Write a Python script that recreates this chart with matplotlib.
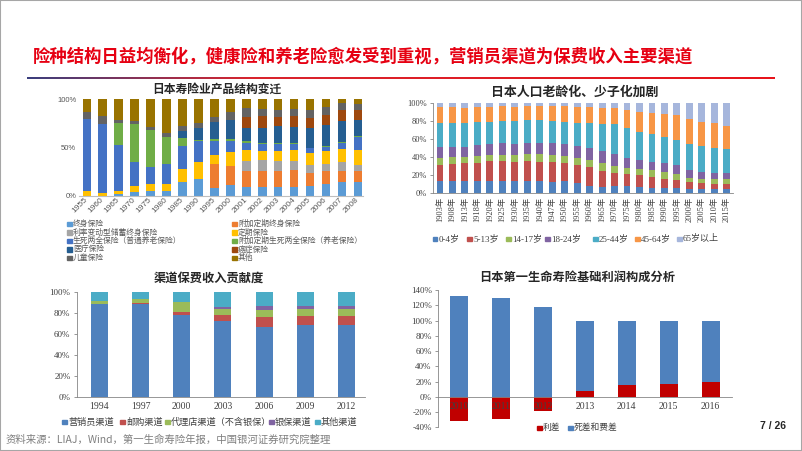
import numpy as np
import matplotlib.pyplot as plt
from matplotlib.patches import Rectangle
from matplotlib.colors import LinearSegmentedColormap

plt.rcParams['font.family'] = ['Noto Sans CJK SC', 'DejaVu Sans']
plt.rcParams['axes.unicode_minus'] = False

SERIF = ['Liberation Serif', 'Noto Sans CJK SC']
SANS = ['Liberation Sans', 'Noto Sans CJK SC']

# 日本寿险业产品结构变迁 (%)
prod_years = ['1955', '1960', '1965', '1970', '1975', '1980', '1985', '1990', '1995',
              '2000', '2001', '2002', '2003', '2004', '2005', '2006', '2007', '2008']
whole_life = [0, 0, 2, 4, 5, 5, 14, 18, 8, 11, 9, 9, 9, 9, 10, 12, 14, 14]
rider_whole = [0, 0, 0, 0, 0, 0, 0, 0, 25, 20, 17, 17, 17, 18, 14, 14, 12, 12]
variable_whole = [0, 0, 0, 0, 0, 0, 0, 0, 0, 0, 10, 11, 10, 9, 8, 7, 9, 6]
term_life = [5, 3, 3, 6, 7, 7, 14, 17, 9, 14, 11, 9, 10, 11, 12, 13, 13, 15]
endowment = [74, 71, 48, 25, 18, 21, 24, 22, 15, 12, 8, 8, 8, 7, 5, 5, 7, 14]
rider_endow = [0, 0, 22, 39, 38, 28, 8, 1, 2, 2, 2, 1, 1, 1, 0.5, 0.5, 0.5, 0.5]
medical = [0, 0, 0, 0, 0, 0, 7, 12, 17, 19, 13, 15, 17, 16, 20.5, 21.5, 21.5, 16.5]
cancer = [0, 0, 0, 0, 0, 0, 0, 0, 0, 0, 11, 12, 9, 11, 10, 10, 12, 11]
child = [8, 8, 3, 3, 3, 4, 5, 5, 5, 9, 10, 8, 8, 8, 9, 9, 7, 6]
other = [13, 18, 22, 23, 29, 35, 28, 25, 19, 13, 9, 10, 11, 10, 11, 8, 4, 5]
prod_names = ['终身保险', '附加定期终身保险', '利率变动型储蓄终身保险', '定期保险',
              '生死两全保险（普通养老保险）', '附加定期生死两全保险（养老保险）',
              '医疗保险', '癌症保险', '儿童保险', '其他']
prod_colors = ['#5B9BD5', '#ED7D31', '#A5A5A5', '#FFC000', '#4472C4', '#70AD47',
               '#255E91', '#9E480E', '#636363', '#997300']

# 日本人口老龄化、少子化加剧 (%)
pop_years = ['1903年', '1908年', '1913年', '1918年', '1920年', '1925年', '1930年', '1935年',
             '1940年', '1947年', '1950年', '1955年', '1960年', '1965年', '1970年', '1975年',
             '1980年', '1985年', '1990年', '1995年', '2000年', '2005年', '2010年', '2015年']
age_0_4 = [13, 13, 13, 13, 13, 13, 13, 13, 13, 12, 13, 11, 8, 7, 8, 8, 7, 6, 5, 5, 4, 4, 4, 4]
age_5_13 = [18, 19, 20, 20, 22, 22, 21, 22, 21, 22, 20, 20, 21, 17, 14, 13, 13, 12, 10, 9, 8, 7, 6, 6]
age_14_17 = [8, 8, 7, 8, 7, 7, 8, 8, 9, 8, 8, 8, 8, 9, 8, 7, 7, 7, 8, 7, 5, 4, 5, 5]
age_18_24 = [12, 11, 11, 12, 12, 13, 12, 12, 12, 13, 13, 13, 13, 13, 13, 11, 9, 9, 10, 10, 9, 8, 7, 7]
age_25_44 = [27, 27, 27, 26, 25, 25, 26, 26, 26, 25, 25, 26, 28, 30, 33, 33, 32, 31, 29, 28, 28, 29, 28, 27]
age_45_64 = [17, 17, 16, 16, 16, 16, 15, 15, 15, 16, 17, 17, 17, 18, 18, 20, 22, 24, 26, 27, 28, 27, 27, 25]
age_65_up = [5, 5, 6, 5, 5, 4, 5, 4, 4, 4, 4, 5, 5, 6, 6, 8, 10, 11, 12, 14, 18, 21, 23, 26]
age_names = ['0-4岁', '5-13岁', '14-17岁', '18-24岁', '25-44岁', '45-64岁', '65岁以上']
age_colors = ['#4F81BD', '#C0504D', '#9BBB59', '#8064A2', '#4BACC6', '#F79646', '#A6B6DC']

# 渠道保费收入贡献度 (%)
chan_years = ['1994', '1997', '2000', '2003', '2006', '2009', '2012']
agent = [88, 88.5, 78, 72, 66.5, 68, 68]
mail = [0.5, 0.5, 3, 6, 9.5, 9, 9]
agency = [3, 4.5, 9.5, 6, 7, 6.5, 7]
bank = [0, 0, 0, 1.7, 3, 3, 2.7]
other_chan = [8.5, 6.5, 9.5, 14.3, 14, 13.5, 13.3]
chan_names = ['营销员渠道', '邮购渠道', '代理店渠道（不含银保）', '银保渠道', '其他渠道']
chan_colors = ['#4F81BD', '#C0504D', '#9BBB59', '#8064A2', '#4BACC6']

# 日本第一生命寿险基础利润构成分析 (%)
profit_years = ['2010', '2011', '2012', '2013', '2014', '2015', '2016']
spread = [-32, -29, -18, 8, 15, 17, 20]
mortality_expense = [132, 130, 118, 92, 85, 83, 80]

W, H = 802, 451
fig = plt.figure(figsize=(W / 100, H / 100), dpi=100)


def box(x0, y0, x1, y1):
    return [x0 / W, 1 - y1 / H, (x1 - x0) / W, (y1 - y0) / H]


def key(x, y, color, label, fs, fam, tc='#404040'):
    s = 4.5
    fig.add_artist(Rectangle((x / W, 1 - (y + s / 2) / H), s / W, s / H,
                             color=color, transform=fig.transFigure))
    fig.text((x + s + 1.5) / W, 1 - y / H, label, fontsize=fs, family=fam,
             color=tc, va='center', ha='left')


def pct(v):
    return '%d%%' % round(v * 100)


def office_axes(ax):
    ax.tick_params(axis='x', length=0, pad=4)
    ax.tick_params(axis='y', length=2.5, width=0.6, color='#868686', pad=2)
    for s in ['top', 'right']:
        ax.spines[s].set_visible(False)
    for s in ['left', 'bottom']:
        ax.spines[s].set_color('#868686')
        ax.spines[s].set_linewidth(0.6)


# 页眉
fig.text(33 / W, 1 - 57 / H, '险种结构日益均衡化，健康险和养老险愈发受到重视，营销员渠道为保费收入主要渠道',
         fontsize=12.5, fontweight='bold', color='#E60012', va='center', ha='left')
lax = fig.add_axes(box(27, 76.5, 775, 79.5))
cmap = LinearSegmentedColormap.from_list('bar', [(0, '#3B3F7E'), (0.3, '#D9252E'), (1, '#E8141B')])
lax.imshow(np.linspace(0, 1, 256)[None, :], aspect='auto', cmap=cmap, extent=(0, 1, 0, 1))
lax.axis('off')

# 图1
ax1 = fig.add_axes(box(79, 99, 363, 196))
series = [whole_life, rider_whole, variable_whole, term_life, endowment,
          rider_endow, medical, cancer, child, other]
x = np.arange(len(prod_years))
bottom = np.zeros(len(x))
for vals, c in zip(series, prod_colors):
    v = np.array(vals) / 100
    ax1.bar(x, v, 0.52, bottom=bottom, color=c)
    bottom += v
ax1.set_xlim(-0.48, 17.3)
ax1.set_ylim(0, 1)
ax1.set_yticks([0, 0.5, 1])
ax1.set_yticklabels(['0%', '50%', '100%'], fontsize=5.5, color='#595959', family=SANS)
ax1.set_xticks(x)
ax1.set_xticklabels(prod_years, rotation=45, ha='right', va='center', rotation_mode='anchor',
                    fontsize=6, color='#595959', family=SANS)
ax1.tick_params(length=0, pad=2)
for s in ['top', 'right', 'left']:
    ax1.spines[s].set_visible(False)
ax1.spines['bottom'].set_color('#BFBFBF')
fig.text(217 / W, 1 - 90 / H, '日本寿险业产品结构变迁', fontsize=8.5, fontweight='bold',
         ha='center', va='center', color='#262626')
rows = [224, 232.5, 241, 249.5, 258]
for i, (n, c) in enumerate(zip(prod_names, prod_colors)):
    key(67 if i % 2 == 0 else 232, rows[i // 2], c, n, 5.6, SANS, '#595959')

# 图2
ax2 = fig.add_axes(box(433, 102.7, 733, 193))
x = np.arange(len(pop_years))
bottom = np.zeros(len(x))
for vals, c in zip([age_0_4, age_5_13, age_14_17, age_18_24, age_25_44, age_45_64, age_65_up], age_colors):
    v = np.array(vals) / 100
    ax2.bar(x, v, 0.55, bottom=bottom, color=c)
    bottom += v
ax2.set_xlim(-0.56, 23.5)
ax2.set_ylim(0, 1)
office_axes(ax2)
ax2.set_yticks(np.arange(0, 1.01, 0.2))
ax2.set_yticklabels([pct(v) for v in np.arange(0, 1.01, 0.2)], fontsize=6, family=SERIF, color='#404040')
ax2.set_xticks(x)
ax2.set_xticklabels(pop_years, rotation=90, fontsize=6, family=SERIF, color='#404040')
ax2.tick_params(axis='x', pad=3)
fig.text(575 / W, 1 - 92 / H, '日本人口老龄化、少子化加剧', fontsize=9.3, fontweight='bold',
         ha='center', va='center', color='#262626')
for xp, n, c in zip([433, 467, 506, 545, 593, 635, 677], age_names, age_colors):
    key(xp, 239, c, n, 6.5, SERIF)

# 图3
ax3 = fig.add_axes(box(76.7, 291.7, 365, 396.7))
x = np.arange(len(chan_years))
bottom = np.zeros(len(x))
for vals, c in zip([agent, mail, agency, bank, other_chan], chan_colors):
    v = np.array(vals) / 100
    ax3.bar(x, v, 0.41, bottom=bottom, color=c)
    bottom += v
ax3.set_xlim(-0.55, 6.45)
ax3.set_ylim(0, 1)
office_axes(ax3)
ax3.set_yticks(np.arange(0, 1.01, 0.2))
ax3.set_yticklabels([pct(v) for v in np.arange(0, 1.01, 0.2)], fontsize=6.5, family=SERIF, color='#404040')
ax3.set_xticks(x)
ax3.set_xticklabels(chan_years, fontsize=7, family=SERIF, color='#404040')
fig.text(209 / W, 1 - 278 / H, '渠道保费收入贡献度', fontsize=8.8, fontweight='bold',
         ha='center', va='center', color='#262626')
for xp, n, c in zip([62, 120, 165, 269, 315], chan_names, chan_colors):
    key(xp, 422, c, n, 6.6, SERIF)

# 图4
ax4 = fig.add_axes(box(438, 290, 731.7, 427.3))
x = np.arange(len(profit_years))
ax4.bar(x, np.array(spread) / 100, 0.43, color='#C00000')
ax4.bar(x, np.array(mortality_expense) / 100, 0.43,
        bottom=np.clip(np.array(spread) / 100, 0, None), color='#4F81BD')
ax4.set_xlim(-0.5, 6.5)
ax4.set_ylim(-0.4, 1.4)
ax4.spines['bottom'].set_position(('data', 0))
office_axes(ax4)
yt = np.arange(-0.4, 1.41, 0.2)
ax4.set_yticks(yt)
ax4.set_yticklabels([pct(v) for v in yt], fontsize=6.5, family=SERIF, color='#404040')
ax4.set_xticks(x)
ax4.set_xticklabels(profit_years, fontsize=7, family=SERIF, color='#404040')
fig.text(577 / W, 1 - 277 / H, '日本第一生命寿险基础利润构成分析', fontsize=8.8, fontweight='bold',
         ha='center', va='center', color='#262626')
key(537, 428, '#C00000', '利差', 6.3, SERIF)
key(568, 428, '#4F81BD', '死差和费差', 6.3, SERIF)

# 页脚
fig.text(6 / W, 1 - 440 / H, '资料来源：LIAJ，Wind，第一生命寿险年报，中国银河证券研究院整理',
         fontsize=7.5, color='#7F7F7F', ha='left', va='center')
fig.text(786 / W, 1 - 426 / H, '7 / 26', fontsize=7.5, fontweight='bold', color='#262626',
         ha='right', va='center', family=SANS)
fig.add_artist(Rectangle((0, 0), 1, 1, fill=False, edgecolor='#A6A6A6', lw=1.5,
                         transform=fig.transFigure))

fig.savefig('out.png', dpi=100)
